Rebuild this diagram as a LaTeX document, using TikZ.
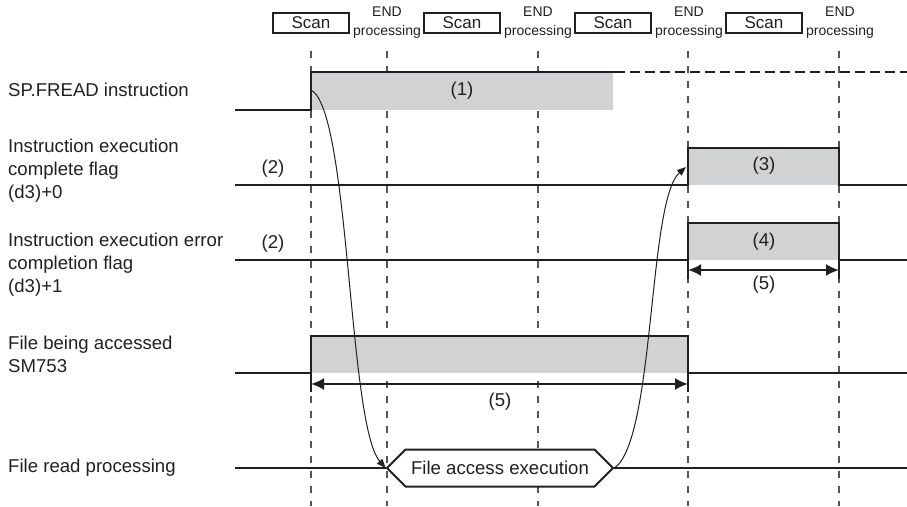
\documentclass[tikz,border=0pt]{standalone}
\usepackage{fontspec}
\setmainfont{Liberation Sans}
\usetikzlibrary{arrows.meta,positioning,shapes.symbols}
\definecolor{TcInk}{RGB}{35,31,32}
\definecolor{TcFill}{RGB}{209,210,212}
\definecolor{TcDash}{RGB}{85,85,85}
\newcommand\tcbig{\fontsize{18.6}{23}\selectfont}
\tikzset{
  tc/label/.style={anchor=west, align=left, inner sep=0pt, text=TcInk, font=\tcbig},
  tc/mark/.style={inner sep=0pt, text=TcInk, font=\tcbig},
  tc/scan/.style={
    draw=TcInk,
    line width=1.4pt,
    fill=white,
    text=TcInk,
    minimum width=76pt,
    minimum height=20pt,
    inner sep=0pt,
    font=\fontsize{17}{20}\selectfont
  },
  tc/end/.style={align=center, inner sep=0pt, text=TcInk, font=\fontsize{14}{19}\selectfont},
  tc/grid/.style={draw=TcDash, line width=1.1pt, dash pattern=on 7pt off 8pt},
  tc/level/.style={draw=TcInk, line width=2pt},
  tc/later/.style={draw=TcInk, line width=2pt, dash pattern=on 10pt off 5pt},
  tc/on/.style={fill=TcFill},
  tc/exec/.style={
    signal,
    signal to=east and west,
    signal pointer angle=90,
    draw=TcInk,
    line width=2pt,
    fill=white,
    text=TcInk,
    minimum width=226pt,
    minimum height=37pt,
    inner sep=0pt,
    font=\tcbig
  },
  tc/flow/.style={-{Triangle[length=9pt,width=7pt]}, draw=TcInk, line width=1pt},
  tc/span/.style={{Latex[length=13pt,width=12pt]}-{Latex[length=13pt,width=12pt]}, draw=TcInk, line width=2pt}
}

\begin{document}
\begin{tikzpicture}[x=1pt,y=-1pt]
  \useasboundingbox (0,0) rectangle (907,506);

  % scan cycles
  \foreach \i in {1,...,4}{
    \node[tc/scan] (scan\i) at ({311+151*(\i-1)},23) {Scan};
    \node[tc/end] (end\i) at ({387+151*(\i-1)},22.5) {END\\processing};
  }
  \foreach \x in {311,387,538,688,839}
    \draw[tc/grid] (\x,51) -- (\x,506);

  % signal names
  \node[tc/label] (fread) at (8,90) {SP.FREAD instruction};
  \node[tc/label] (doneflag) at (8,171) {Instruction execution\\complete flag\\(d3)+0};
  \node[tc/label] (errflag) at (8,265) {Instruction execution error\\completion flag\\(d3)+1};
  \node[tc/label] (access) at (8,354) {File being accessed\\SM753};
  \node[tc/label] (readproc) at (8,468) {File read processing};

  % high periods
  \fill[tc/on] (311,72) rectangle (613,110);
  \fill[tc/on] (688,148) rectangle (839,185);
  \fill[tc/on] (688,223) rectangle (839,260);
  \fill[tc/on] (311,336) rectangle (688,373);

  % levels
  \draw[tc/level] (235,110) -- (311,110) -- (311,72) -- (615,72);
  \draw[tc/later] (615,72) -- (907,72);
  \draw[tc/level] (235,185) -- (688,185) -- (688,148) -- (839,148) -- (839,185) -- (907,185);
  \draw[tc/level] (235,260) -- (688,260) -- (688,223) -- (839,223) -- (839,260) -- (907,260);
  \draw[tc/level] (688,260) -- (688,279) (839,260) -- (839,279);
  \draw[tc/level] (235,373) -- (311,373) -- (311,336) -- (688,336) -- (688,373) -- (907,373);
  \draw[tc/level] (311,373) -- (311,392) (688,373) -- (688,392);

  \node[tc/exec] (fileexec) at (500,468) {File access execution};
  \draw[tc/level] (235,468) -- (fileexec.west);
  \draw[tc/level] (fileexec.east) -- (907,468);

  % numbered notes
  \node[tc/mark] (n1) at (462,91) {(1)};
  \node[tc/mark] (n2a) at (273,169) {(2)};
  \node[tc/mark] (n2b) at (273,244) {(2)};
  \node[tc/mark] (n3) at (764,166) {(3)};
  \node[tc/mark] (n4) at (764,242) {(4)};
  \node[tc/mark] (n5a) at (764,285) {(5)};
  \node[tc/mark] (n5b) at (500,402) {(5)};

  % spans
  \coordinate (errfrom) at (688,270);
  \coordinate (errto) at (839,270);
  \coordinate (accfrom) at (311,384);
  \coordinate (accto) at (688,384);
  \draw[tc/span] (errfrom) -- (errto);
  \draw[tc/span] (accfrom) -- (accto);

  % request and completion
  \coordinate (fread-edge) at (311,90);
  \coordinate (done-edge) at (686,167);
  \draw[tc/flow] (fread-edge) .. controls (350,110) and (348,425) .. (fileexec.west);
  \draw[tc/flow] (fileexec.east) .. controls (655,440) and (648,200) .. (done-edge);
\end{tikzpicture}
\end{document}
